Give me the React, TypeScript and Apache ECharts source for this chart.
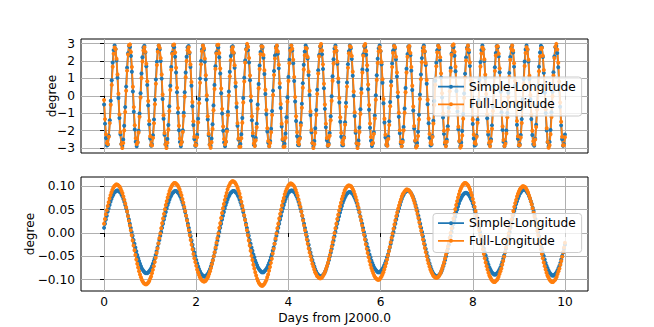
import React, { useEffect, useRef } from "react";
import * as echarts from "echarts";

// Upper panel sample times (days from J2000.0, half-hourly)
const topDays = [
0,0.0208,0.0417,0.0625,0.0833,0.1042,0.125,0.1458,0.1667,0.1875,0.2083,0.2292,0.25,0.2708,0.2917,0.3125,0.3333,0.3542,0.375,0.3958,0.4167,0.4375,0.4583,0.4792,
0.5,0.5208,0.5417,0.5625,0.5833,0.6042,0.625,0.6458,0.6667,0.6875,0.7083,0.7292,0.75,0.7708,0.7917,0.8125,0.8333,0.8542,0.875,0.8958,0.9167,0.9375,0.9583,0.9792,
1,1.0208,1.0417,1.0625,1.0833,1.1042,1.125,1.1458,1.1667,1.1875,1.2083,1.2292,1.25,1.2708,1.2917,1.3125,1.3333,1.3542,1.375,1.3958,1.4167,1.4375,1.4583,1.4792,
1.5,1.5208,1.5417,1.5625,1.5833,1.6042,1.625,1.6458,1.6667,1.6875,1.7083,1.7292,1.75,1.7708,1.7917,1.8125,1.8333,1.8542,1.875,1.8958,1.9167,1.9375,1.9583,1.9792,
2,2.0208,2.0417,2.0625,2.0833,2.1042,2.125,2.1458,2.1667,2.1875,2.2083,2.2292,2.25,2.2708,2.2917,2.3125,2.3333,2.3542,2.375,2.3958,2.4167,2.4375,2.4583,2.4792,
2.5,2.5208,2.5417,2.5625,2.5833,2.6042,2.625,2.6458,2.6667,2.6875,2.7083,2.7292,2.75,2.7708,2.7917,2.8125,2.8333,2.8542,2.875,2.8958,2.9167,2.9375,2.9583,2.9792,
3,3.0208,3.0417,3.0625,3.0833,3.1042,3.125,3.1458,3.1667,3.1875,3.2083,3.2292,3.25,3.2708,3.2917,3.3125,3.3333,3.3542,3.375,3.3958,3.4167,3.4375,3.4583,3.4792,
3.5,3.5208,3.5417,3.5625,3.5833,3.6042,3.625,3.6458,3.6667,3.6875,3.7083,3.7292,3.75,3.7708,3.7917,3.8125,3.8333,3.8542,3.875,3.8958,3.9167,3.9375,3.9583,3.9792,
4,4.0208,4.0417,4.0625,4.0833,4.1042,4.125,4.1458,4.1667,4.1875,4.2083,4.2292,4.25,4.2708,4.2917,4.3125,4.3333,4.3542,4.375,4.3958,4.4167,4.4375,4.4583,4.4792,
4.5,4.5208,4.5417,4.5625,4.5833,4.6042,4.625,4.6458,4.6667,4.6875,4.7083,4.7292,4.75,4.7708,4.7917,4.8125,4.8333,4.8542,4.875,4.8958,4.9167,4.9375,4.9583,4.9792,
5,5.0208,5.0417,5.0625,5.0833,5.1042,5.125,5.1458,5.1667,5.1875,5.2083,5.2292,5.25,5.2708,5.2917,5.3125,5.3333,5.3542,5.375,5.3958,5.4167,5.4375,5.4583,5.4792,
5.5,5.5208,5.5417,5.5625,5.5833,5.6042,5.625,5.6458,5.6667,5.6875,5.7083,5.7292,5.75,5.7708,5.7917,5.8125,5.8333,5.8542,5.875,5.8958,5.9167,5.9375,5.9583,5.9792,
6,6.0208,6.0417,6.0625,6.0833,6.1042,6.125,6.1458,6.1667,6.1875,6.2083,6.2292,6.25,6.2708,6.2917,6.3125,6.3333,6.3542,6.375,6.3958,6.4167,6.4375,6.4583,6.4792,
6.5,6.5208,6.5417,6.5625,6.5833,6.6042,6.625,6.6458,6.6667,6.6875,6.7083,6.7292,6.75,6.7708,6.7917,6.8125,6.8333,6.8542,6.875,6.8958,6.9167,6.9375,6.9583,6.9792,
7,7.0208,7.0417,7.0625,7.0833,7.1042,7.125,7.1458,7.1667,7.1875,7.2083,7.2292,7.25,7.2708,7.2917,7.3125,7.3333,7.3542,7.375,7.3958,7.4167,7.4375,7.4583,7.4792,
7.5,7.5208,7.5417,7.5625,7.5833,7.6042,7.625,7.6458,7.6667,7.6875,7.7083,7.7292,7.75,7.7708,7.7917,7.8125,7.8333,7.8542,7.875,7.8958,7.9167,7.9375,7.9583,7.9792,
8,8.0208,8.0417,8.0625,8.0833,8.1042,8.125,8.1458,8.1667,8.1875,8.2083,8.2292,8.25,8.2708,8.2917,8.3125,8.3333,8.3542,8.375,8.3958,8.4167,8.4375,8.4583,8.4792,
8.5,8.5208,8.5417,8.5625,8.5833,8.6042,8.625,8.6458,8.6667,8.6875,8.7083,8.7292,8.75,8.7708,8.7917,8.8125,8.8333,8.8542,8.875,8.8958,8.9167,8.9375,8.9583,8.9792,
9,9.0208,9.0417,9.0625,9.0833,9.1042,9.125,9.1458,9.1667,9.1875,9.2083,9.2292,9.25,9.2708,9.2917,9.3125,9.3333,9.3542,9.375,9.3958,9.4167,9.4375,9.4583,9.4792,
9.5,9.5208,9.5417,9.5625,9.5833,9.6042,9.625,9.6458,9.6667,9.6875,9.7083,9.7292,9.75,9.7708,9.7917,9.8125,9.8333,9.8542,9.875,9.8958,9.9167,9.9375,9.9583,9.9792,
10,
];

// Upper panel, Simple-Longitude (degree)
const topSimple = [
-0.50,-1.60,-2.43,-2.86,-2.81,-2.30,-1.41,-0.28,0.90,1.92,2.63,2.90,2.69,2.03,1.04,-0.13,-1.27,-2.21,-2.77,-2.88,-2.51,-1.72,-0.65,0.53,1.62,2.45,2.86,2.81,2.29,1.38,0.25,-0.92,-1.94,-2.64,-2.90,-2.68,-2.01,-1.02,0.15,1.29,2.22,2.78,2.88,2.50,1.70,0.63,
-0.55,-1.64,-2.46,-2.87,-2.80,-2.27,-1.36,-0.23,0.94,1.96,2.65,2.90,2.67,2.00,0.99,-0.18,-1.32,-2.24,-2.79,-2.88,-2.49,-1.68,-0.60,0.58,1.66,2.47,2.87,2.79,2.25,1.34,0.20,-0.97,-1.98,-2.66,-2.90,-2.66,-1.98,-0.97,0.20,1.34,2.25,2.79,2.87,2.47,1.66,0.58,
-0.60,-1.68,-2.49,-2.88,-2.79,-2.24,-1.32,-0.18,0.99,2.00,2.67,2.90,2.65,1.96,0.94,-0.23,-1.36,-2.27,-2.80,-2.87,-2.46,-1.64,-0.55,0.63,1.70,2.50,2.88,2.78,2.22,1.29,0.15,-1.02,-2.01,-2.68,-2.90,-2.64,-1.94,-0.92,0.25,1.38,2.29,2.81,2.86,2.45,1.62,0.53,
-0.65,-1.72,-2.51,-2.88,-2.77,-2.21,-1.27,-0.13,1.04,2.03,2.69,2.90,2.63,1.92,0.90,-0.28,-1.41,-2.30,-2.81,-2.86,-2.43,-1.60,-0.50,0.68,1.75,2.52,2.88,2.77,2.19,1.25,0.10,-1.06,-2.05,-2.70,-2.90,-2.62,-1.90,-0.87,0.30,1.43,2.32,2.82,2.86,2.42,1.58,0.48,
-0.70,-1.77,-2.54,-2.89,-2.76,-2.17,-1.23,-0.08,1.09,2.07,2.71,2.90,2.61,1.88,0.85,-0.33,-1.45,-2.33,-2.83,-2.85,-2.40,-1.56,-0.45,0.73,1.79,2.55,2.89,2.75,2.15,1.20,0.05,-1.11,-2.09,-2.72,-2.90,-2.60,-1.86,-0.82,0.35,1.47,2.35,2.83,2.85,2.39,1.54,0.43,
-0.75,-1.81,-2.56,-2.89,-2.74,-2.14,-1.18,-0.03,1.13,2.10,2.73,2.89,2.58,1.84,0.80,-0.38,-1.49,-2.36,-2.84,-2.84,-2.38,-1.52,-0.40,0.77,1.82,2.57,2.89,2.73,2.12,1.16,0.00,-1.16,-2.12,-2.73,-2.89,-2.57,-1.82,-0.77,0.40,1.52,2.38,2.84,2.84,2.36,1.49,0.38,
-0.80,-1.84,-2.58,-2.89,-2.73,-2.10,-1.13,0.03,1.18,2.14,2.74,2.89,2.56,1.81,0.75,-0.43,-1.54,-2.39,-2.85,-2.83,-2.35,-1.47,-0.35,0.82,1.86,2.60,2.90,2.72,2.09,1.11,-0.05,-1.20,-2.15,-2.75,-2.89,-2.55,-1.79,-0.73,0.45,1.56,2.40,2.85,2.83,2.33,1.45,0.33,
-0.85,-1.88,-2.61,-2.90,-2.71,-2.07,-1.09,0.08,1.23,2.17,2.76,2.89,2.54,1.77,0.70,-0.48,-1.58,-2.42,-2.86,-2.82,-2.32,-1.43,-0.30,0.87,1.90,2.62,2.90,2.70,2.05,1.06,-0.10,-1.25,-2.19,-2.77,-2.88,-2.52,-1.75,-0.68,0.50,1.60,2.43,2.86,2.81,2.30,1.41,0.28,
-0.90,-1.92,-2.63,-2.90,-2.69,-2.03,-1.04,0.13,1.27,2.21,2.77,2.88,2.51,1.72,0.65,-0.53,-1.62,-2.45,-2.86,-2.81,-2.29,-1.38,-0.25,0.92,1.94,2.64,2.90,2.68,2.01,1.02,-0.15,-1.29,-2.22,-2.78,-2.88,-2.50,-1.70,-0.63,0.55,1.64,2.46,2.87,2.80,2.27,1.36,0.23,
-0.94,-1.96,-2.65,-2.90,-2.67,-2.00,-0.99,0.18,1.32,2.24,2.79,2.88,2.49,1.68,0.60,-0.58,-1.66,-2.47,-2.87,-2.79,-2.25,-1.34,-0.20,0.97,1.98,2.66,2.90,2.66,1.98,0.97,-0.20,-1.34,-2.25,-2.79,-2.87,-2.47,-1.66,-0.58,0.60,1.68,2.49,2.88,2.79,2.24,1.32,0.18,
-0.99,-2.00,-2.67,-2.90,-2.65,-1.96,-0.94,0.23,1.36,2.27,2.80,2.87,2.46,1.64,0.55,-0.63,-1.70,-2.50,-2.88,-2.78,-2.22,
];

// Upper panel, Full-Longitude (degree)
const topFull = [
-0.24,-1.34,-2.21,-2.71,-2.77,-2.36,-1.57,-0.51,0.63,1.67,2.42,2.78,2.68,2.13,1.23,0.12,-1.08,-2.10,-2.78,-3.00,-2.72,-1.99,-0.93,0.29,1.45,2.38,2.91,2.96,2.52,1.66,0.52,-0.65,-1.69,-2.44,-2.78,-2.67,-2.11,-1.21,-0.10,1.03,1.98,2.61,2.80,2.53,1.84,0.84,
-0.30,-1.43,-2.32,-2.82,-2.86,-2.42,-1.58,-0.48,0.70,1.77,2.54,2.89,2.76,2.17,1.23,0.08,-1.12,-2.14,-2.80,-3.00,-2.70,-1.95,-0.88,0.34,1.50,2.41,2.92,2.95,2.49,1.61,0.47,-0.70,-1.72,-2.46,-2.79,-2.66,-2.08,-1.16,-0.05,1.07,2.01,2.62,2.80,2.51,1.80,0.80,
-0.35,-1.47,-2.35,-2.83,-2.85,-2.39,-1.54,-0.43,0.75,1.81,2.56,2.89,2.74,2.14,1.18,0.03,-1.17,-2.18,-2.82,-2.99,-2.67,-1.91,-0.83,0.39,1.55,2.44,2.93,2.94,2.46,1.57,0.42,-0.75,-1.76,-2.48,-2.79,-2.64,-2.05,-1.12,0.00,1.12,2.05,2.64,2.79,2.48,1.76,0.75,
-0.42,-1.57,-2.46,-2.94,-2.93,-2.44,-1.55,-0.39,0.83,1.91,2.67,2.99,2.82,2.18,1.17,-0.03,-1.18,-2.14,-2.74,-2.89,-2.56,-1.81,-0.75,0.43,1.54,2.39,2.85,2.83,2.35,1.47,0.35,-0.82,-1.86,-2.60,-2.90,-2.72,-2.09,-1.11,0.05,1.20,2.15,2.75,2.89,2.55,1.79,0.73,
-0.47,-1.61,-2.49,-2.95,-2.92,-2.41,-1.50,-0.34,0.85,1.88,2.61,2.90,2.71,2.07,1.09,-0.07,-1.18,-2.10,-2.66,-2.79,-2.45,-1.70,-0.68,0.46,1.52,2.33,2.76,2.72,2.24,1.38,0.29,-0.90,-1.97,-2.71,-3.00,-2.79,-2.12,-1.10,0.10,1.29,2.26,2.86,2.98,2.61,1.81,0.70,
-0.50,-1.60,-2.43,-2.86,-2.81,-2.30,-1.41,-0.28,0.87,1.86,2.54,2.80,2.60,1.96,1.00,-0.12,-1.23,-2.13,-2.68,-2.78,-2.42,-1.67,-0.63,0.53,1.62,2.45,2.86,2.81,2.29,1.38,0.25,-0.95,-2.01,-2.73,-3.00,-2.77,-2.08,-1.05,0.16,1.34,2.30,2.88,2.98,2.58,1.76,0.65,
-0.53,-1.59,-2.37,-2.77,-2.70,-2.19,-1.31,-0.22,0.91,1.89,2.56,2.80,2.58,1.93,0.96,-0.18,-1.32,-2.24,-2.79,-2.88,-2.49,-1.68,-0.60,0.58,1.66,2.47,2.87,2.79,2.25,1.34,0.20,-0.97,-1.98,-2.66,-2.90,-2.66,-1.98,-0.97,0.20,1.34,2.25,2.79,2.87,2.47,1.66,0.58,
-0.62,-1.74,-2.57,-2.97,-2.88,-2.31,-1.36,-0.18,0.96,1.93,2.58,2.80,2.56,1.89,0.91,-0.22,-1.31,-2.19,-2.70,-2.77,-2.37,-1.59,-0.53,0.63,1.70,2.50,2.88,2.78,2.22,1.29,0.15,-1.02,-2.01,-2.68,-2.90,-2.64,-1.94,-0.92,0.26,1.43,2.36,2.90,2.96,2.53,1.68,0.55,
-0.68,-1.78,-2.60,-2.98,-2.87,-2.28,-1.32,-0.13,1.04,2.03,2.69,2.90,2.63,1.92,0.90,-0.27,-1.36,-2.22,-2.72,-2.76,-2.35,-1.55,-0.49,0.65,1.69,2.44,2.78,2.67,2.11,1.21,0.10,-1.06,-2.05,-2.70,-2.90,-2.62,-1.90,-0.87,0.30,1.43,2.32,2.82,2.86,2.42,1.58,0.48,
-0.70,-1.77,-2.54,-2.89,-2.76,-2.17,-1.23,-0.08,1.09,2.07,2.71,2.90,2.61,1.88,0.85,-0.33,-1.45,-2.33,-2.83,-2.85,-2.40,-1.56,-0.45,0.70,1.72,2.46,2.79,2.66,2.08,1.16,0.05,-1.07,-2.01,-2.62,-2.80,-2.51,-1.80,-0.80,0.34,1.42,2.27,2.73,2.75,2.31,1.48,0.41,
-0.78,-1.87,-2.65,-2.99,-2.84,-2.21,-1.22,-0.03,1.17,2.18,2.82,2.99,2.67,1.91,0.83,-0.38,-1.49,-2.36,-2.84,-2.84,-2.38,
];

// Lower panel sample times (days from J2000.0)
const bottomDays = [
0,0.02,0.04,0.06,0.08,0.1,0.12,0.14,0.16,0.18,0.2,0.22,0.24,0.26,0.28,0.3,0.32,0.34,0.36,0.38,0.4,0.42,0.44,0.46,0.48,
0.5,0.52,0.54,0.56,0.58,0.6,0.62,0.64,0.66,0.68,0.7,0.72,0.74,0.76,0.78,0.8,0.82,0.84,0.86,0.88,0.9,0.92,0.94,0.96,0.98,
1,1.02,1.04,1.06,1.08,1.1,1.12,1.14,1.16,1.18,1.2,1.22,1.24,1.26,1.28,1.3,1.32,1.34,1.36,1.38,1.4,1.42,1.44,1.46,1.48,
1.5,1.52,1.54,1.56,1.58,1.6,1.62,1.64,1.66,1.68,1.7,1.72,1.74,1.76,1.78,1.8,1.82,1.84,1.86,1.88,1.9,1.92,1.94,1.96,1.98,
2,2.02,2.04,2.06,2.08,2.1,2.12,2.14,2.16,2.18,2.2,2.22,2.24,2.26,2.28,2.3,2.32,2.34,2.36,2.38,2.4,2.42,2.44,2.46,2.48,
2.5,2.52,2.54,2.56,2.58,2.6,2.62,2.64,2.66,2.68,2.7,2.72,2.74,2.76,2.78,2.8,2.82,2.84,2.86,2.88,2.9,2.92,2.94,2.96,2.98,
3,3.02,3.04,3.06,3.08,3.1,3.12,3.14,3.16,3.18,3.2,3.22,3.24,3.26,3.28,3.3,3.32,3.34,3.36,3.38,3.4,3.42,3.44,3.46,3.48,
3.5,3.52,3.54,3.56,3.58,3.6,3.62,3.64,3.66,3.68,3.7,3.72,3.74,3.76,3.78,3.8,3.82,3.84,3.86,3.88,3.9,3.92,3.94,3.96,3.98,
4,4.02,4.04,4.06,4.08,4.1,4.12,4.14,4.16,4.18,4.2,4.22,4.24,4.26,4.28,4.3,4.32,4.34,4.36,4.38,4.4,4.42,4.44,4.46,4.48,
4.5,4.52,4.54,4.56,4.58,4.6,4.62,4.64,4.66,4.68,4.7,4.72,4.74,4.76,4.78,4.8,4.82,4.84,4.86,4.88,4.9,4.92,4.94,4.96,4.98,
5,5.02,5.04,5.06,5.08,5.1,5.12,5.14,5.16,5.18,5.2,5.22,5.24,5.26,5.28,5.3,5.32,5.34,5.36,5.38,5.4,5.42,5.44,5.46,5.48,
5.5,5.52,5.54,5.56,5.58,5.6,5.62,5.64,5.66,5.68,5.7,5.72,5.74,5.76,5.78,5.8,5.82,5.84,5.86,5.88,5.9,5.92,5.94,5.96,5.98,
6,6.02,6.04,6.06,6.08,6.1,6.12,6.14,6.16,6.18,6.2,6.22,6.24,6.26,6.28,6.3,6.32,6.34,6.36,6.38,6.4,6.42,6.44,6.46,6.48,
6.5,6.52,6.54,6.56,6.58,6.6,6.62,6.64,6.66,6.68,6.7,6.72,6.74,6.76,6.78,6.8,6.82,6.84,6.86,6.88,6.9,6.92,6.94,6.96,6.98,
7,7.02,7.04,7.06,7.08,7.1,7.12,7.14,7.16,7.18,7.2,7.22,7.24,7.26,7.28,7.3,7.32,7.34,7.36,7.38,7.4,7.42,7.44,7.46,7.48,
7.5,7.52,7.54,7.56,7.58,7.6,7.62,7.64,7.66,7.68,7.7,7.72,7.74,7.76,7.78,7.8,7.82,7.84,7.86,7.88,7.9,7.92,7.94,7.96,7.98,
8,8.02,8.04,8.06,8.08,8.1,8.12,8.14,8.16,8.18,8.2,8.22,8.24,8.26,8.28,8.3,8.32,8.34,8.36,8.38,8.4,8.42,8.44,8.46,8.48,
8.5,8.52,8.54,8.56,8.58,8.6,8.62,8.64,8.66,8.68,8.7,8.72,8.74,8.76,8.78,8.8,8.82,8.84,8.86,8.88,8.9,8.92,8.94,8.96,8.98,
9,9.02,9.04,9.06,9.08,9.1,9.12,9.14,9.16,9.18,9.2,9.22,9.24,9.26,9.28,9.3,9.32,9.34,9.36,9.38,9.4,9.42,9.44,9.46,9.48,
9.5,9.52,9.54,9.56,9.58,9.6,9.62,9.64,9.66,9.68,9.7,9.72,9.74,9.76,9.78,9.8,9.82,9.84,9.86,9.88,9.9,9.92,9.94,9.96,9.98,
10,
];

// Lower panel, Simple-Longitude (degree)
const bottomSimple = [
0.011,0.020,0.029,0.037,0.046,0.053,0.060,0.067,0.073,0.078,0.082,0.086,0.088,0.090,0.091,0.091,0.090,0.088,0.086,0.082,0.078,0.073,0.067,0.060,0.053,0.046,0.037,0.029,0.020,0.011,0.002,
-0.006,-0.015,-0.023,-0.031,-0.039,-0.047,-0.054,-0.060,-0.066,-0.071,-0.076,-0.079,-0.082,-0.084,-0.086,-0.086,-0.086,-0.084,-0.082,-0.079,-0.076,-0.071,-0.066,-0.060,-0.054,-0.047,-0.039,-0.031,-0.023,-0.015,-0.006,
0.002,0.011,0.020,0.029,0.037,0.045,0.053,0.060,0.066,0.072,0.077,0.081,0.085,0.087,0.089,0.090,0.090,0.089,0.087,0.085,0.081,0.077,0.072,0.066,0.060,0.053,0.045,0.037,0.029,0.020,0.011,0.002,
-0.007,-0.016,-0.025,-0.034,-0.042,-0.050,-0.058,-0.065,-0.071,-0.077,-0.082,-0.086,-0.089,-0.091,-0.093,-0.093,-0.093,-0.091,-0.089,-0.086,-0.082,-0.077,-0.071,-0.065,-0.058,-0.050,-0.042,-0.034,-0.025,-0.016,-0.007,
0.002,0.011,0.020,0.029,0.037,0.045,0.053,0.060,0.066,0.072,0.077,0.081,0.085,0.087,0.089,0.090,0.090,0.089,0.087,0.085,0.081,0.077,0.072,0.066,0.060,0.053,0.045,0.037,0.029,0.020,0.011,0.002,
-0.006,-0.015,-0.023,-0.031,-0.038,-0.046,-0.052,-0.059,-0.064,-0.069,-0.074,-0.077,-0.080,-0.082,-0.084,-0.084,-0.084,-0.082,-0.080,-0.077,-0.074,-0.069,-0.064,-0.059,-0.052,-0.046,-0.038,-0.031,-0.023,-0.015,-0.006,
0.002,0.011,0.020,0.029,0.037,0.046,0.053,0.060,0.067,0.073,0.078,0.082,0.086,0.088,0.090,0.091,0.091,0.090,0.088,0.086,0.082,0.078,0.073,0.067,0.060,0.053,0.046,0.037,0.029,0.020,0.011,0.002,
-0.007,-0.016,-0.025,-0.034,-0.042,-0.050,-0.058,-0.065,-0.071,-0.077,-0.082,-0.086,-0.089,-0.091,-0.093,-0.093,-0.093,-0.091,-0.089,-0.086,-0.082,-0.077,-0.071,-0.065,-0.058,-0.050,-0.042,-0.034,-0.025,-0.016,-0.007,
0.002,0.011,0.020,0.028,0.036,0.044,0.051,0.058,0.065,0.070,0.075,0.079,0.083,0.085,0.087,0.088,0.088,0.087,0.085,0.083,0.079,0.075,0.070,0.065,0.058,0.051,0.044,0.036,0.028,0.020,0.011,0.002,
-0.006,-0.015,-0.023,-0.031,-0.038,-0.046,-0.052,-0.059,-0.064,-0.069,-0.074,-0.077,-0.080,-0.082,-0.084,-0.084,-0.084,-0.082,-0.080,-0.077,-0.074,-0.069,-0.064,-0.059,-0.052,-0.046,-0.038,-0.031,-0.023,-0.015,-0.006,
0.002,0.011,0.020,0.029,0.037,0.046,0.053,0.060,0.067,0.073,0.078,0.082,0.086,0.088,0.090,0.091,0.091,0.090,0.088,0.086,0.082,0.078,0.073,0.067,0.060,0.053,0.046,0.037,0.029,0.020,0.011,0.002,
-0.007,-0.016,-0.025,-0.034,-0.042,-0.050,-0.058,-0.065,-0.071,-0.077,-0.082,-0.086,-0.089,-0.091,-0.093,-0.093,-0.093,-0.091,-0.089,-0.086,-0.082,-0.077,-0.071,-0.065,-0.058,-0.050,-0.042,-0.034,-0.025,-0.016,-0.007,
0.002,0.011,0.019,0.027,0.035,0.043,0.050,0.057,0.063,0.069,0.073,0.077,0.081,0.083,0.085,0.086,0.086,0.085,0.083,0.081,0.077,0.073,0.069,0.063,0.057,0.050,0.043,0.035,0.027,0.019,0.011,0.002,
-0.007,-0.015,-0.024,-0.033,-0.041,-0.048,-0.055,-0.062,-0.068,-0.074,-0.078,-0.082,-0.085,-0.087,-0.089,-0.089,-0.089,-0.087,-0.085,-0.082,-0.078,-0.074,-0.068,-0.062,-0.055,-0.048,-0.041,-0.033,-0.024,-0.015,-0.007,
0.002,0.012,0.021,0.030,0.038,0.047,0.054,0.062,0.068,0.074,0.079,0.084,0.087,0.090,0.092,0.093,0.093,0.092,0.090,0.087,0.084,0.079,0.074,0.068,0.062,0.054,0.047,0.038,0.030,0.021,0.012,0.002,
-0.007,-0.016,-0.025,-0.033,-0.042,-0.049,-0.057,-0.064,-0.070,-0.075,-0.080,-0.084,-0.087,-0.089,-0.091,-0.091,-0.091,-0.089,-0.087,-0.084,-0.080,-0.075,-0.070,-0.064,-0.057,-0.049,-0.042,-0.033,-0.025,
];

// Lower panel, Full-Longitude (degree)
const bottomFull = [
0.020,0.030,0.040,0.049,0.058,0.066,0.074,0.081,0.087,0.092,0.097,0.100,0.102,0.104,0.104,0.103,0.101,0.099,0.095,0.090,0.085,0.078,0.071,0.063,0.055,0.046,0.036,0.026,0.016,0.006,
-0.005,-0.016,-0.027,-0.037,-0.047,-0.057,-0.066,-0.074,-0.082,-0.089,-0.095,-0.100,-0.104,-0.107,-0.109,-0.110,-0.110,-0.108,-0.106,-0.103,-0.098,-0.093,-0.086,-0.079,-0.071,-0.062,-0.053,-0.043,-0.033,-0.022,-0.011,-0.001,
0.010,0.021,0.031,0.041,0.051,0.060,0.068,0.076,0.083,0.090,0.095,0.099,0.103,0.105,0.107,0.107,0.106,0.104,0.102,0.098,0.093,0.087,0.081,0.073,0.065,0.056,0.047,0.037,0.027,0.016,0.006,
-0.005,-0.015,-0.025,-0.035,-0.045,-0.054,-0.062,-0.070,-0.078,-0.084,-0.090,-0.095,-0.098,-0.101,-0.103,-0.104,-0.104,-0.103,-0.100,-0.097,-0.093,-0.088,-0.082,-0.075,-0.067,-0.059,-0.050,-0.041,-0.031,-0.021,-0.011,-0.001,
0.011,0.021,0.032,0.043,0.053,0.062,0.071,0.079,0.086,0.093,0.099,0.103,0.107,0.109,0.111,0.111,0.110,0.108,0.105,0.101,0.096,0.090,0.084,0.076,0.067,0.058,0.049,0.038,0.028,0.017,0.006,
-0.005,-0.016,-0.027,-0.038,-0.049,-0.058,-0.068,-0.076,-0.084,-0.091,-0.098,-0.103,-0.107,-0.110,-0.112,-0.113,-0.113,-0.111,-0.109,-0.105,-0.101,-0.095,-0.089,-0.081,-0.073,-0.064,-0.055,-0.044,-0.034,-0.023,-0.012,-0.001,
0.010,0.020,0.031,0.041,0.050,0.059,0.068,0.075,0.083,0.089,0.094,0.098,0.102,0.104,0.106,0.106,0.105,0.103,0.101,0.097,0.092,0.086,0.080,0.072,0.064,0.056,0.046,0.037,0.027,0.016,0.006,
-0.004,-0.014,-0.023,-0.033,-0.042,-0.050,-0.058,-0.066,-0.072,-0.078,-0.084,-0.088,-0.092,-0.094,-0.096,-0.097,-0.097,-0.096,-0.094,-0.090,-0.087,-0.082,-0.076,-0.070,-0.063,-0.055,-0.047,-0.038,-0.029,-0.020,-0.010,0.000,
0.010,0.020,0.030,0.039,0.048,0.057,0.065,0.073,0.079,0.085,0.091,0.095,0.098,0.100,0.102,0.102,0.101,0.100,0.097,0.093,0.089,0.083,0.077,0.070,0.062,0.054,0.045,0.035,0.026,0.016,0.006,
-0.004,-0.014,-0.024,-0.034,-0.043,-0.052,-0.060,-0.068,-0.075,-0.081,-0.086,-0.091,-0.095,-0.097,-0.099,-0.100,-0.100,-0.099,-0.096,-0.093,-0.089,-0.084,-0.078,-0.072,-0.065,-0.057,-0.048,-0.039,-0.030,-0.020,-0.010,-0.001,
0.009,0.018,0.027,0.036,0.044,0.052,0.059,0.066,0.072,0.078,0.083,0.086,0.089,0.091,0.093,0.093,0.092,0.091,0.088,0.085,0.081,0.076,0.070,0.064,0.057,0.049,0.041,0.032,0.023,0.014,0.005,
-0.004,-0.014,-0.023,-0.032,-0.041,-0.050,-0.058,-0.065,-0.072,-0.078,-0.083,-0.087,-0.091,-0.093,-0.095,-0.096,-0.096,-0.095,-0.093,-0.090,-0.086,-0.081,-0.075,-0.069,-0.062,-0.054,-0.046,-0.038,-0.029,-0.019,-0.010,0.000,
0.010,0.021,0.031,0.041,0.051,0.060,0.068,0.076,0.083,0.090,0.095,0.099,0.103,0.105,0.107,0.107,0.106,0.104,0.102,0.098,0.093,0.087,0.081,0.073,0.065,0.056,0.047,0.037,0.027,0.016,0.006,
-0.005,-0.015,-0.025,-0.035,-0.045,-0.054,-0.063,-0.071,-0.078,-0.085,-0.091,-0.095,-0.099,-0.102,-0.104,-0.105,-0.105,-0.103,-0.101,-0.098,-0.094,-0.088,-0.082,-0.076,-0.068,-0.060,-0.051,-0.041,-0.031,-0.021,-0.011,-0.001,
0.009,0.019,0.029,0.038,0.047,0.056,0.064,0.071,0.078,0.084,0.089,0.093,0.096,0.098,0.100,0.100,0.099,0.098,0.095,0.091,0.087,0.081,0.075,0.068,0.061,0.053,0.044,0.035,0.025,0.015,0.005,
-0.005,-0.015,-0.025,-0.035,-0.045,-0.054,-0.063,-0.071,-0.078,-0.085,-0.091,-0.095,-0.099,-0.102,-0.104,-0.105,-0.105,-0.103,-0.101,-0.098,-0.094,-0.088,-0.082,-0.076,-0.068,-0.060,-0.051,-0.041,-0.031,-0.021,
];

const seriesNames = ["Simple-Longitude", "Full-Longitude"];
const seriesColors = ["#1f77b4", "#ff7f0e"];
const xTicks = [0, 2, 4, 6, 8, 10];
const topYTicks = [-3, -2, -1, 0, 1, 2, 3];
const bottomYTicks = [-0.1, -0.05, 0, 0.05, 0.1];
const xLabel = "Days from J2000.0";
const yLabel = "degree";

const FONT = "DejaVu Sans";
const LEGEND_ICON = "path://M0,1.1L26,1.1L26,2.9L0,2.9Z M11,2A2,2,0,1,1,15,2A2,2,0,1,1,11,2Z";

const minus = (s: string) => s.replace("-", "\u2212");

function lineSeries(name: string, color: string, panel: number, xs: number[], values: number[]) {
  return {
    name,
    type: "line",
    xAxisIndex: panel,
    yAxisIndex: panel,
    data: values.map((v, i) => [xs[i], v]),
    symbol: "circle",
    symbolSize: 4,
    showSymbol: true,
    showAllSymbol: true,
    lineStyle: { color, width: 1.8 },
    itemStyle: { color, borderWidth: 0 },
    emphasis: { disabled: true },
    silent: true,
    animation: false,
  };
}

export default function App() {
  const ref = useRef<HTMLDivElement>(null);
  useEffect(() => {
    if (!ref.current) return;
    const chart = echarts.init(ref.current, undefined, { renderer: "svg" });
    const gridBase = {
      left: 81,
      width: 507,
      height: 114,
      show: true,
      borderColor: "#000",
      borderWidth: 1,
      backgroundColor: "transparent",
      containLabel: false,
      outerBoundsMode: "none",
    };
    const xBase = {
      type: "value",
      min: -0.5,
      max: 10.5,
      nameMoveOverlap: false,
      axisLine: { show: false },
      axisTick: { show: true, inside: false, length: 4, customValues: xTicks, lineStyle: { color: "#000", width: 1 } },
      splitLine: { show: true, lineStyle: { color: "#b0b0b0", width: 1 } },
    };
    const yBase = {
      type: "value",
      nameMoveOverlap: false,
      axisLine: { show: false },
      splitLine: { show: true, lineStyle: { color: "#b0b0b0", width: 1 } },
      name: yLabel,
      nameLocation: "middle",
      nameRotate: 90,
      nameTextStyle: { fontFamily: FONT, fontSize: 12.2, color: "#000" },
    };
    const legendBase = {
      orient: "vertical",
      selectedMode: false,
      left: 433,
      itemWidth: 26,
      itemHeight: 4,
      itemGap: 3.6,
      padding: [2.7, 6, 4.7, 5],
      backgroundColor: "rgba(255,255,255,0.8)",
      borderColor: "#cccccc",
      borderWidth: 1,
      borderRadius: 3,
      itemStyle: { borderWidth: 0 },
      textStyle: { fontFamily: FONT, fontSize: 12.2, color: "#000", lineHeight: 14 },
      data: seriesNames.map((n) => ({ name: n, icon: LEGEND_ICON })),
    };
    chart.setOption({
      animation: false,
      backgroundColor: "#fff",
      textStyle: { fontFamily: FONT },
      grid: [
        { ...gridBase, top: 39 },
        { ...gridBase, top: 177 },
      ],
      xAxis: [
        { ...xBase, gridIndex: 0, axisLabel: { show: false } },
        {
          ...xBase,
          gridIndex: 1,
          axisLabel: {
            show: true,
            customValues: xTicks,
            fontFamily: FONT,
            fontSize: 12.2,
            color: "#000",
            margin: 5,
            formatter: (v: number) => minus(String(v)),
          },
          name: xLabel,
          nameLocation: "middle",
          nameGap: 21,
          nameTextStyle: { fontFamily: FONT, fontSize: 12.2, color: "#000" },
        },
      ],
      yAxis: [
        {
          ...yBase,
          gridIndex: 0,
          min: -3.29,
          max: 3.27,
          nameGap: 23,
          axisTick: { show: true, inside: false, length: 4, customValues: topYTicks, lineStyle: { color: "#000", width: 1 } },
          axisLabel: {
            customValues: topYTicks,
            fontFamily: FONT,
            fontSize: 12.2,
            color: "#000",
            margin: 6,
            formatter: (v: number) => minus(String(Math.round(v))),
          },
        },
        {
          ...yBase,
          gridIndex: 1,
          min: -0.1243,
          max: 0.12,
          nameGap: 45.5,
          axisTick: { show: true, inside: false, length: 4, customValues: bottomYTicks, lineStyle: { color: "#000", width: 1 } },
          axisLabel: {
            customValues: bottomYTicks,
            fontFamily: FONT,
            fontSize: 12.2,
            color: "#000",
            margin: 6,
            formatter: (v: number) => minus(v.toFixed(2)),
          },
        },
      ],
      legend: [
        { ...legendBase, top: 77 },
        { ...legendBase, top: 213.5 },
      ],
      series: [
        lineSeries(seriesNames[0], seriesColors[0], 0, topDays, topSimple),
        lineSeries(seriesNames[1], seriesColors[1], 0, topDays, topFull),
        lineSeries(seriesNames[0], seriesColors[0], 1, bottomDays, bottomSimple),
        lineSeries(seriesNames[1], seriesColors[1], 1, bottomDays, bottomFull),
      ],
    });
    return () => chart.dispose();
  }, []);
  return (
    <div
      ref={ref}
      style={{ position: "fixed", left: 0, top: 0, width: 654, height: 327, background: "#fff" }}
    />
  );
}
